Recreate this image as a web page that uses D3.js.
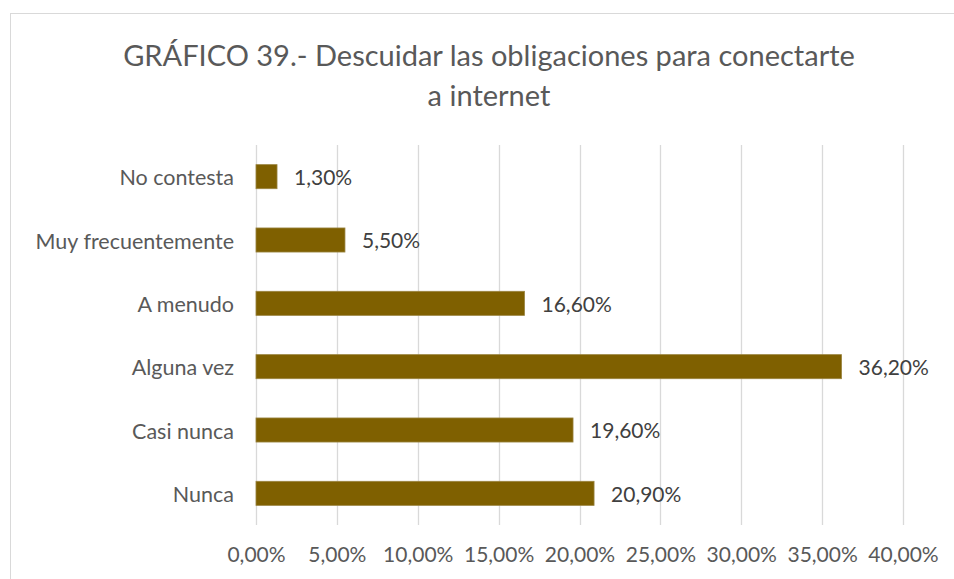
<!DOCTYPE html>
<html>
<head>
<meta charset="utf-8">
<script src="https://cdn.jsdelivr.net/npm/d3@7"></script>
<style>
  html, body { margin: 0; padding: 0; background: #fff; }
  svg { display: block; font-family: Lato, "Open Sans", sans-serif; }
</style>
</head>
<body>
<svg id="chart" width="954" height="579"></svg>
<script>
// datos del gráfico
var categorias = ["No contesta", "Muy frecuentemente", "A menudo", "Alguna vez", "Casi nunca", "Nunca"];
var valores = [1.3, 5.5, 16.6, 36.2, 19.6, 20.9];
var ticks = [0, 5, 10, 15, 20, 25, 30, 35, 40];
var titulo = ["GRÁFICO 39.- Descuidar las obligaciones para conectarte", "a internet"];

var svg = d3.select("#chart"),
    margin = {top: 145, right: 51, bottom: 54, left: 256},
    width = +svg.attr("width"),
    height = +svg.attr("height");

var fmt = function(v) { return v.toFixed(2).replace(".", ",") + "%"; };

// marco
svg.append("rect")
  .attr("x", 10.5).attr("y", 13.5)
  .attr("width", 960).attr("height", 600)
  .attr("fill", "#fff").attr("stroke", "#d9d9d9");

// título
svg.append("g").selectAll("text")
  .data(titulo)
  .enter().append("text")
    .attr("x", 489)
    .attr("y", function(d, i) { return 66 + i * 40; })
    .attr("text-anchor", "middle")
    .attr("font-size", 29)
    .attr("fill", "#595959")
    .text(function(d) { return d; });

var x = d3.scaleLinear()
    .domain([0, 40])
    .range([margin.left, width - margin.right]);

var y = d3.scaleBand()
    .domain(categorias)
    .range([margin.top, height - margin.bottom])
    .paddingInner(0.62)
    .paddingOuter(0.31);

// rejilla
svg.append("g")
  .selectAll("line")
  .data(ticks)
  .enter().append("line")
    .attr("x1", function(d) { return Math.round(x(d)) + 0.5; })
    .attr("x2", function(d) { return Math.round(x(d)) + 0.5; })
    .attr("y1", margin.top)
    .attr("y2", height - margin.bottom)
    .attr("stroke", "#d9d9d9")
    .attr("stroke-width", 1.3);

// eje x
var ejeX = svg.append("g")
    .attr("transform", "translate(0," + (height - margin.bottom) + ")")
    .call(d3.axisBottom(x).tickValues(ticks).tickFormat(fmt).tickSize(0).tickPadding(22));
ejeX.select(".domain").remove();
ejeX.selectAll("text")
    .attr("font-family", "Lato, 'Open Sans', sans-serif")
    .attr("font-size", 21)
    .attr("fill", "#595959");

// eje y
var ejeY = svg.append("g")
    .attr("transform", "translate(" + margin.left + ",0)")
    .call(d3.axisLeft(y).tickSize(0).tickPadding(22));
ejeY.select(".domain").remove();
ejeY.selectAll("text")
    .attr("font-family", "Lato, 'Open Sans', sans-serif")
    .attr("font-size", 21.5)
    .attr("dy", "0.4em")
    .attr("fill", "#595959");

// barras
svg.append("g")
  .selectAll("rect")
  .data(valores)
  .enter().append("rect")
    .attr("x", x(0))
    .attr("y", function(d, i) { return y(categorias[i]); })
    .attr("width", function(d) { return x(d) - x(0); })
    .attr("height", y.bandwidth())
    .attr("fill", "#7f6000")
    .attr("stroke", "#9a8440")
    .attr("stroke-width", 0.8);

// etiquetas de valor
svg.append("g")
  .selectAll("text")
  .data(valores)
  .enter().append("text")
    .attr("x", function(d) { return x(d) + 17; })
    .attr("y", function(d, i) { return y(categorias[i]) + y.bandwidth() / 2; })
    .attr("dy", "0.4em")
    .attr("font-size", 21)
    .attr("fill", "#404040")
    .text(fmt);
</script>
</body>
</html>
